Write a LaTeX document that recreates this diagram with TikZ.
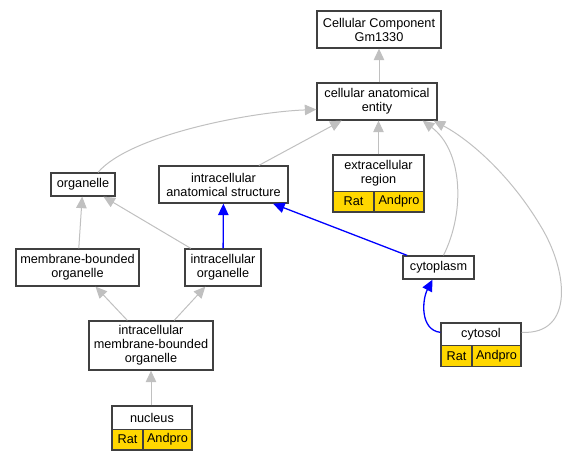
\documentclass[tikz,border=0pt]{standalone}
\usepackage{fontspec}
\setmainfont{Liberation Sans}
\usetikzlibrary{arrows.meta,calc}
\definecolor{edgegray}{HTML}{C0C0C0}
\definecolor{cellgold}{HTML}{FFD700}
\definecolor{boxline}{HTML}{404040}
\begin{document}
\begin{tikzpicture}[x=1pt,y=-1pt,
  box/.style={draw=boxline, line width=1.3pt, fill=white, inner sep=0pt, align=center,
    font=\fontsize{12.7}{14}\selectfont},
  txt/.style={inner sep=0pt, align=center, font=\fontsize{12.7}{14}\selectfont},
  cellbox/.style={draw=boxline, line width=1.3pt, fill=cellgold, inner sep=0pt,
    font=\fontsize{12.7}{14}\selectfont, minimum height=20.5},
  isa/.style={draw=edgegray, line width=1pt, -{Triangle[length=11.5pt,width=10.5pt]}},
  partof/.style={draw=blue, line width=1.3pt, -{Triangle[length=11.5pt,width=10.5pt]}}]
\useasboundingbox (0,0) rectangle (565,461);

% plain boxes
\node[box, minimum width=124, minimum height=37] (gm) at (379,29.5) {Cellular Component\\Gm1330};
\node[box, minimum width=120, minimum height=37] (cae) at (377,101.5) {cellular anatomical\\entity};
\node[box, minimum width=64, minimum height=23] (organelle) at (83,184.5) {organelle};
\node[box, minimum width=129, minimum height=37] (ias) at (223.5,184.5) {intracellular\\anatomical structure};
\node[box, minimum width=123, minimum height=37] (mbo) at (77.5,267.5) {membrane-bounded\\organelle};
\node[box, minimum width=76, minimum height=37] (io) at (223,267.5) {intracellular\\organelle};
\node[box, minimum width=71, minimum height=23] (cytoplasm) at (438.5,267.5) {cytoplasm};
\node[box, minimum width=124, minimum height=49] (imbo) at (151,345.5) {intracellular\\membrane-bounded\\organelle};

% boxes with table rows
\node[box, minimum width=91, minimum height=57] (extra) at (378.5,183.5) {};
\node[txt] (extratxt) at (378.5,173) {extracellular\\region};
\node[cellbox, minimum width=41] (extrarat) at (353.5,201.5) {Rat};
\node[cellbox, minimum width=50] (extraand) at (399,201.5) {Andpro};

\node[box, minimum width=80, minimum height=43] (cytosol) at (481,344.5) {};
\node[txt] (cytosoltxt) at (481,334.5) {cytosol};
\node[cellbox, minimum width=31] (cytosolrat) at (456.5,356) {Rat};
\node[cellbox, minimum width=49] (cytosoland) at (496.5,356) {Andpro};

\node[box, minimum width=80, minimum height=44] (nucleus) at (152,428) {};
\node[txt] (nucleustxt) at (152,417.5) {nucleus};
\node[cellbox, minimum width=31] (nucleusrat) at (127.5,439.5) {Rat};
\node[cellbox, minimum width=49] (nucleusand) at (167.5,439.5) {Andpro};

% gray is_a edges
\draw[isa] (cae.north -| gm.south) -- (gm.south);
\draw[isa] (extra.north) -- (extra.north |- cae.south);
\draw[isa] (ias) -- (cae);
\draw[isa] ($(organelle.north)+(15,0)$) .. controls (130,135) and (250,112) .. ($(cae.west)+(0,8)$);
\draw[isa] ($(cytoplasm.north)+(5,0)$) .. controls (466,210) and (462,150) .. ($(cae.south east)+(-15,0)$);
\draw[isa] ($(cytosol.north east)+(0,10)$) .. controls (575,335) and (568,270) .. (540,225)
  .. controls (510,175) and (470,140) .. ($(cae.south east)+(-4,0)$);
\draw[isa] (mbo) -- (organelle);
\draw[isa] (io) -- (organelle);
\draw[isa] (imbo) -- (mbo);
\draw[isa] (imbo) -- (io);
\draw[isa] (nucleus.north -| imbo.south) -- (imbo.south);

% blue part_of edges
\draw[partof] (io) -- (ias);
\draw[partof] (cytoplasm) -- (ias);
\draw[partof] ($(cytosol.north west)+(0,10)$) .. controls (420,330) and (422,300) .. ($(cytoplasm.south)+(-6,0)$);
\end{tikzpicture}
\end{document}
